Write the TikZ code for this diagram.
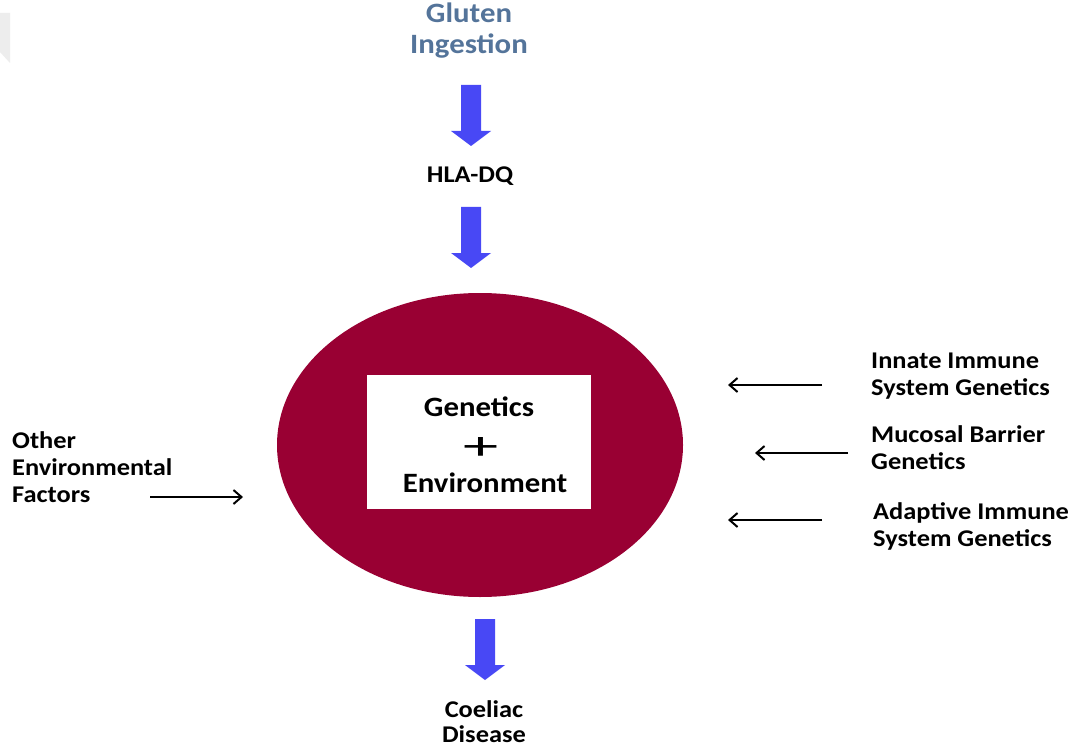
\documentclass[tikz,border=0pt]{standalone}
\usepackage{graphicx}
\usepackage{fontspec}
\setmainfont{Carlito}[FakeStretch=1.1]
\usetikzlibrary{shapes.geometric,arrows.meta}
\definecolor{maroon}{RGB}{153,0,51}
\definecolor{blockblue}{RGB}{72,72,245}
\definecolor{glutenblue}{RGB}{84,116,154}
\tikzset{
  lbl/.style={font=\bfseries\fontsize{24}{27}\selectfont, align=left, inner sep=0pt, text=black},
  ctr/.style={font=\bfseries\fontsize{24}{25}\selectfont, align=center, inner sep=0pt, text=black},
  boxtxt/.style={font=\bfseries\fontsize{28}{30}\selectfont, inner sep=0pt, text=black},
  thinarrow/.style={line width=2pt, -{Straight Barb[length=8pt,width=14pt,line width=2pt]}},
  blockarrow/.pic={\fill[blockblue] (-10,0) -- (10,0) -- (10,46) -- (20,46) -- (0,61) -- (-20,46) -- (-10,46) -- cycle;}
}
\begin{document}
\begin{tikzpicture}[x=1pt, y=-1pt]
\useasboundingbox (0,0) rectangle (1083,751);
\fill[white] (0,0) rectangle (1083,751);
% faint corner mark
\fill[black!7] (0,13) -- (10,13) -- (10,63) -- (0,52) -- cycle;

\node[font=\bfseries\fontsize{28}{31}\selectfont, text=glutenblue, align=center, inner sep=0pt] (gluten) at (469,31) {Gluten\\Ingestion};
\pic (arrA) at (471,85) {blockarrow};
\node[ctr] (hla) at (470,176) {HLA-DQ};
\pic (arrB) at (471,207) {blockarrow};

\node[ellipse, fill=maroon, minimum width=406pt, minimum height=304pt, inner sep=0pt] (circ) at (480,445) {};
\node[rectangle, fill=white, minimum width=224pt, minimum height=134pt, inner sep=0pt] (box) at (479,442) {};
\node[boxtxt] (gen) at (479,407) {Genetics};
\node[inner sep=0pt] (plus) at (481,449) {\fontsize{40}{40}\selectfont\mdseries\scalebox{1.6}[1]{+}};
\node[boxtxt] (env) at (485,483) {Environment};

\pic (arrC) at (485,619) {blockarrow};
\node[ctr] (coeliac) at (484,722) {Coeliac\\Disease};

\node[lbl, anchor=west] (other) at (12,467) {Other\\Environmental\\Factors};
\coordinate (oS) at (150,497);
\coordinate (oE) at (243,497);
\draw[thinarrow] (oS) -- (oE);

\node[lbl, anchor=west] (innate) at (871,376) {Innate Immune\\System Genetics};
\node[lbl, anchor=west] (mucosal) at (871,448) {Mucosal Barrier\\Genetics};
\node[lbl, anchor=west] (adaptive) at (873,526) {Adaptive Immune\\System Genetics};
\coordinate (iS) at (822,385);
\coordinate (iE) at (728,385);
\coordinate (mS) at (848,453);
\coordinate (mE) at (755,453);
\coordinate (aS) at (822,520);
\coordinate (aE) at (728,520);
\draw[thinarrow] (iS) -- (iE);
\draw[thinarrow] (mS) -- (mE);
\draw[thinarrow] (aS) -- (aE);
\end{tikzpicture}
\end{document}
